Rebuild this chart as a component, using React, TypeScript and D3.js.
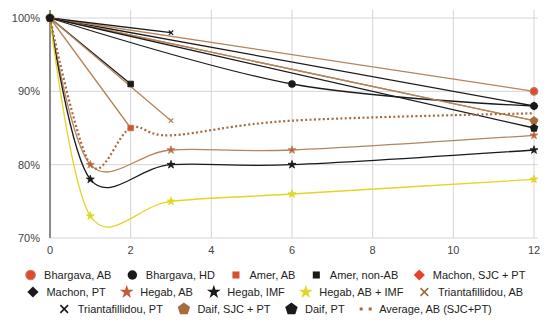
import React, { useRef, useEffect } from 'react';
import * as d3 from 'd3';

const W = 550;
const H = 326;

// tick values
const xTicks = [0, 2, 4, 6, 8, 10, 12];
const yTicks = [70, 80, 90, 100];

// series values [month, % retained]
const bhargavaAB = [[0, 100], [12, 90]];
const bhargavaHD = [[0, 100], [6, 91], [12, 88]];
const amerAB = [[0, 100], [2, 85]];
const amerNonAB = [[0, 100], [2, 91]];
const machonSJC = [[0, 100], [12, 86]];
const machonPT = [[0, 100], [12, 88]];
const hegabAB = [[0, 100], [1, 80], [3, 82], [6, 82], [12, 84]];
const hegabIMF = [[0, 100], [1, 78], [3, 80], [6, 80], [12, 82]];
const hegabABIMF = [[0, 100], [1, 73], [3, 75], [6, 76], [12, 78]];
const triAB = [[0, 100], [3, 86]];
const triPT = [[0, 100], [3, 98]];
const daifSJC = [[0, 100], [12, 86]];
const daifPT = [[0, 100], [12, 85]];
const averageAB = [[0, 100], [1, 80], [2, 85], [3, 84], [6, 86], [12, 87]];

const BROWN = '#b5845a';
const BLACK = '#1a1a1a';
const YELLOW = '#e3d523';

const series = [
  { name: 'Bhargava, AB', data: bhargavaAB, line: BROWN, shape: 'circle', fill: '#e4472d', stroke: BROWN },
  { name: 'Bhargava, HD', data: bhargavaHD, line: BLACK, shape: 'circle', fill: BLACK },
  { name: 'Amer, AB', data: amerAB, line: BROWN, shape: 'square', fill: '#d9502e' },
  { name: 'Amer, non-AB', data: amerNonAB, line: BLACK, shape: 'square', fill: BLACK },
  { name: 'Machon, SJC + PT', data: machonSJC, line: BROWN, shape: 'diamond', fill: '#e4432c' },
  { name: 'Machon, PT', data: machonPT, line: BLACK, shape: 'diamond', fill: BLACK },
  { name: 'Hegab, AB', data: hegabAB, line: BROWN, shape: 'star', fill: '#c45a3a' },
  { name: 'Hegab, IMF', data: hegabIMF, line: BLACK, shape: 'star', fill: BLACK },
  { name: 'Hegab, AB + IMF', data: hegabABIMF, line: YELLOW, shape: 'star', fill: YELLOW },
  { name: 'Triantafillidou, AB', data: triAB, line: BROWN, shape: 'x', fill: '#9c6c3c' },
  { name: 'Triantafillidou, PT', data: triPT, line: BLACK, shape: 'x', fill: BLACK },
  { name: 'Daif, SJC + PT', data: daifSJC, line: BROWN, shape: 'pentagon', fill: '#a56c3c' },
  { name: 'Daif, PT', data: daifPT, line: BLACK, shape: 'pentagon', fill: BLACK },
  { name: 'Average, AB (SJC+PT)', data: averageAB, line: '#a9683c', shape: 'dots', fill: '#a9683c', dotted: true },
];

// machon markers sit under the others
const drawOrder = [4, 5, 0, 1, 2, 3, 6, 7, 8, 9, 10, 11, 12, 13];

function pentagon(r) {
  const pts = d3.range(5).map(i => {
    const a = -Math.PI / 2 + i * 2 * Math.PI / 5;
    return [r * Math.cos(a), r * Math.sin(a)];
  });
  return 'M' + pts.map(p => p.join(',')).join('L') + 'Z';
}

function drawMarker(g, s, big) {
  const k = big ? 1.25 : 1;
  // in the plot the small marks get an outline in the line colour
  const edge = big ? 'none' : s.line;
  const ew = big ? 0 : 0.8;
  if (s.shape === 'circle') {
    g.append('circle').attr('r', 3.8 * k).attr('fill', s.fill)
      .attr('stroke', s.stroke || 'none').attr('stroke-width', 1.2);
  } else if (s.shape === 'square') {
    g.append('path').attr('d', d3.symbol(d3.symbolSquare, 32 * k * k)()).attr('fill', s.fill)
      .attr('stroke', edge).attr('stroke-width', ew);
  } else if (s.shape === 'diamond') {
    g.append('path').attr('d', d3.symbol(d3.symbolSquare, 40 * k * k)())
      .attr('transform', 'rotate(45)').attr('fill', s.fill);
  } else if (s.shape === 'star') {
    g.append('path').attr('d', d3.symbol(d3.symbolStar, (big ? 60 : 20))()).attr('fill', s.fill)
      .attr('stroke', edge).attr('stroke-width', ew);
  } else if (s.shape === 'x') {
    g.append('path').attr('d', d3.symbol(d3.symbolX, (big ? 40 : 14))())
      .attr('fill', 'none').attr('stroke', big ? s.fill : s.line).attr('stroke-width', big ? 1.6 : 1.2);
  } else if (s.shape === 'pentagon') {
    g.append('path').attr('d', pentagon(big ? 6.5 : 4.5)).attr('fill', s.fill);
  } else if (s.shape === 'dots') {
    g.append('rect').attr('x', -6).attr('y', -1.5).attr('width', 3).attr('height', 3).attr('fill', s.fill);
    g.append('rect').attr('x', 3).attr('y', -1.5).attr('width', 3).attr('height', 3).attr('fill', s.fill);
  }
}

const App = () => {
  const svgRef = useRef(null);

  useEffect(() => {
    const svg = d3.select(svgRef.current);
    svg.selectAll('*').remove();

    const x = d3.scaleLinear().domain([0, 12]).range([50, 534]);
    const y = d3.scaleLinear().domain([70, 100]).range([238, 18]);
    const font = "'Liberation Sans', Arial, sans-serif";

    // grid
    const grid = svg.append('g');
    xTicks.filter(t => t > 0).forEach(t => {
      grid.append('line').attr('x1', x(t)).attr('x2', x(t))
        .attr('y1', y(101.1)).attr('y2', y(70))
        .attr('stroke', '#d4d4d4').attr('stroke-width', 1);
    });
    yTicks.forEach(t => {
      grid.append('line').attr('x1', x(0)).attr('x2', x(12.1))
        .attr('y1', y(t)).attr('y2', y(t))
        .attr('stroke', '#d4d4d4').attr('stroke-width', 1);
    });
    grid.append('line').attr('x1', x(0)).attr('x2', x(0))
      .attr('y1', y(101.1)).attr('y2', y(70))
      .attr('stroke', '#8c8c8c').attr('stroke-width', 2);

    // tick labels
    svg.append('g').selectAll('text').data(yTicks).join('text')
      .attr('x', 40).attr('y', d => y(d)).attr('dy', '0.35em')
      .attr('text-anchor', 'end').attr('font-family', font).attr('font-size', 11)
      .attr('fill', '#444').text(d => d + '%');
    svg.append('g').selectAll('text').data(xTicks).join('text')
      .attr('x', d => x(d)).attr('y', 250).attr('dy', '0.35em')
      .attr('text-anchor', 'middle').attr('font-family', font).attr('font-size', 11)
      .attr('fill', '#444').text(d => d);

    // lines
    const line = d3.line().x(d => x(d[0])).y(d => y(d[1])).curve(d3.curveCardinal.tension(0));
    const lines = svg.append('g');
    drawOrder.forEach(i => {
      const s = series[i];
      lines.append('path').attr('d', line(s.data))
        .attr('fill', 'none').attr('stroke', s.line)
        .attr('stroke-width', s.dotted ? 2.2 : 1.3)
        .attr('stroke-dasharray', s.dotted ? '2,2.4' : null);
    });

    // markers
    const marks = svg.append('g');
    drawOrder.forEach(i => {
      const s = series[i];
      if (s.dotted) return;
      s.data.forEach(d => {
        const g = marks.append('g').attr('transform', `translate(${x(d[0])},${y(d[1])})`);
        drawMarker(g, s, false);
      });
    });

    // legend
    const legend = svg.append('g');
    const rowY = [275, 292, 309];
    const maxW = 530;
    const items = series.map(s => {
      const g = legend.append('g');
      drawMarker(g.append('g'), s, true);
      const t = g.append('text').attr('x', 13.5).attr('dy', '0.35em')
        .attr('font-family', font).attr('font-size', 11).attr('fill', '#222').text(s.name);
      const w = t.node().getComputedTextLength();
      return { g, w: 6 + 13.5 + w };
    });
    const rows = [[]];
    let cur = 0;
    items.forEach(it => {
      const add = rows[rows.length - 1].length ? 15 + it.w : it.w;
      if (cur + add > maxW && rows[rows.length - 1].length) {
        rows.push([it]);
        cur = it.w;
      } else {
        rows[rows.length - 1].push(it);
        cur += add;
      }
    });
    rows.forEach((row, r) => {
      const total = d3.sum(row, d => d.w) + 15 * (row.length - 1);
      let px = W / 2 - total / 2;
      row.forEach(it => {
        it.g.attr('transform', `translate(${px + 6},${rowY[r]})`);
        px += it.w + 15;
      });
    });
  }, []);

  return (
    <svg ref={svgRef} width={W} height={H}
      style={{ position: 'absolute', left: 0, top: 0, background: '#ffffff' }} />
  );
};

export default App;
